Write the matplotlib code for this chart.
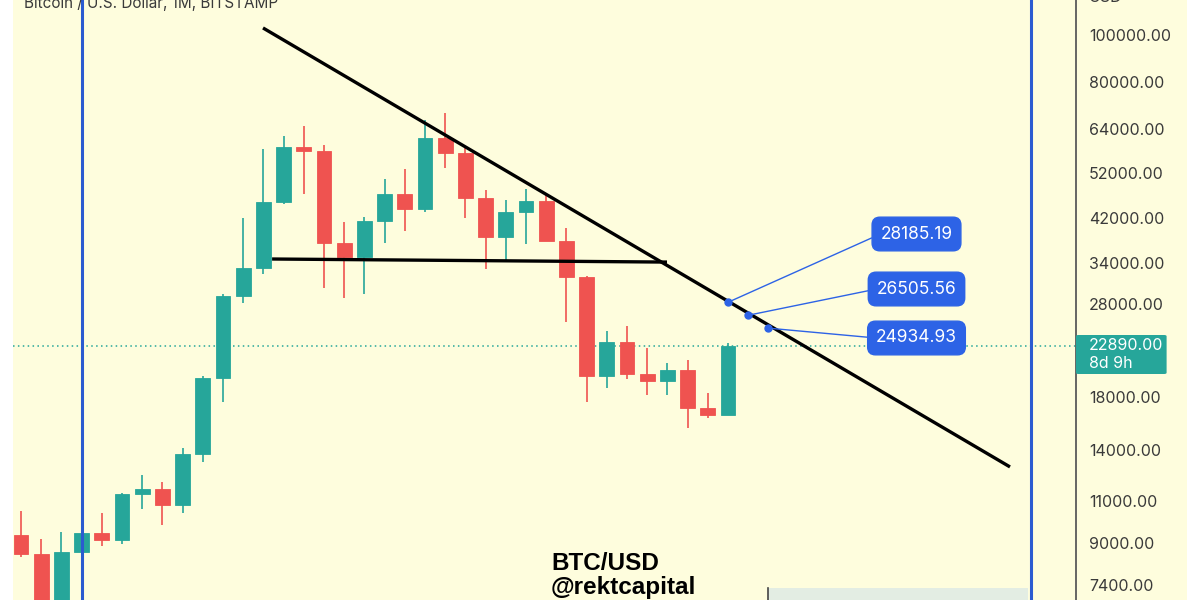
import matplotlib
matplotlib.use("Agg")
import matplotlib.pyplot as plt
from matplotlib.patches import Rectangle, FancyBboxPatch
from matplotlib.ticker import FixedLocator, FixedFormatter, NullLocator

# ---------------- data (BTC/USD monthly, Bitstamp) ----------------
months = ["2020-02", "2020-03", "2020-04", "2020-05", "2020-06", "2020-07",
          "2020-08", "2020-09", "2020-10", "2020-11", "2020-12", "2021-01",
          "2021-02", "2021-03", "2021-04", "2021-05", "2021-06", "2021-07",
          "2021-08", "2021-09", "2021-10", "2021-11", "2021-12", "2022-01",
          "2022-02", "2022-03", "2022-04", "2022-05", "2022-06", "2022-07",
          "2022-08", "2022-09", "2022-10", "2022-11", "2022-12", "2023-01"]
opens = [9350, 8540, 6410, 8640, 9450, 9140, 11350, 11640, 10790, 13740,
         19690, 29000, 33150, 45300, 58800, 57700, 37300, 35000, 41450, 47100,
         43800, 61350, 57200, 46200, 38400, 43150, 45500, 37650, 31780, 19880,
         23300, 20070, 19380, 20450, 17120, 16560]
highs = [10500, 9200, 9480, 10070, 10400, 11440, 12440, 12030, 14100, 19900,
         29300, 42000, 58400, 61900, 64900, 59500, 41300, 42300, 50500, 52900,
         67000, 69000, 59100, 47990, 45800, 48200, 47400, 40050, 31950, 24650,
         25200, 22700, 21100, 21450, 18350, 23200]
lows = [8450, 3850, 6150, 8110, 8880, 8980, 10590, 9810, 10390, 13230,
        17600, 28100, 32300, 45000, 47100, 30100, 28700, 29300, 37300, 39600,
        43300, 53300, 42000, 33000, 34400, 37200, 37700, 25700, 17600, 18780,
        19600, 18170, 18180, 15500, 16300, 16500]
closes = [8540, 6410, 8640, 9450, 9140, 11350, 11640, 10790, 13740, 19690,
          29000, 33150, 45300, 58800, 57700, 37300, 35000, 41450, 47100, 43800,
          61350, 57200, 46200, 38400, 43150, 45500, 37650, 31780, 19880, 23300,
          20070, 19380, 20450, 17120, 16560, 22890]

last_price = 22890.00
time_left = "8d 9h"

# trendlines (bar index, price)
diag_x = [11.98, 48.96]
diag_y = [103400, 12920]
horiz_x = [12.43, 31.98]
horiz_y = [34600, 34100]

# price targets on the descending trendline
target_x = [35, 36, 37]
target_y = [28185.19, 26505.56, 24934.93]

# vertical markers (bar index)
vline_x = [3, 50]

yticks = [100000, 80000, 64000, 52000, 42000, 34000, 28000,
          18000, 14000, 11000, 9000, 7400]

# ---------------- styling ----------------
BG = "#FEFDDD"
UP = "#26A69A"
DN = "#EF5350"
BLUE = "#2B5BD0"
LABEL_BLUE = "#2D63E6"
TXT = "#3A3A3A"
FONT = ["Inter", "DejaVu Sans"]

W, H = 1200, 600
fig = plt.figure(figsize=(12, 6), dpi=100, facecolor="white")


def fx(px):
    return px / W


def fy(py):
    return 1 - py / H


# log-scale mapping (px per decade)
TOP_LOG = 5 + 35 / 486
BOT_LOG = 5 - 565 / 486


def px_to_price(py):
    return 10 ** (5 - (py - 35) / 486)


def px_to_idx(px):
    return (px - 21) / 20.2


# right price-scale panel background (behind the axes and its labels)
fig.patches.append(Rectangle((fx(1076), 0), fx(1187 - 1076), 1,
                             transform=fig.transFigure, facecolor=BG,
                             edgecolor="none", zorder=-5))

ax = fig.add_axes([fx(13), 0, fx(1076 - 13), 1])
ax.set_facecolor(BG)
ax.set_yscale("log")
ax.set_ylim(10 ** BOT_LOG, 10 ** TOP_LOG)
ax.set_xlim(px_to_idx(13), px_to_idx(1076))

for s in ["top", "left", "bottom"]:
    ax.spines[s].set_visible(False)
ax.spines["right"].set_color("#5a5a5a")
ax.spines["right"].set_linewidth(1.3)
ax.xaxis.set_major_locator(NullLocator())
ax.xaxis.set_minor_locator(NullLocator())
ax.yaxis.tick_right()
ax.yaxis.set_major_locator(FixedLocator(yticks))
ax.yaxis.set_major_formatter(FixedFormatter([f"{v:.2f}" for v in yticks]))
ax.yaxis.set_minor_locator(NullLocator())
ax.tick_params(axis="y", which="both", length=0, pad=9.4, labelsize=11.5,
               labelcolor=TXT, right=True, labelright=True, left=False,
               labelleft=False)
for lab in ax.yaxis.get_ticklabels(which="major"):
    lab.set_fontfamily(FONT)
for t in ax.yaxis.get_major_ticks():
    t.label2.set_fontfamily(FONT)

# candles
xs = list(range(len(months)))
colors = [UP if c >= o else DN for o, c in zip(opens, closes)]
ax.vlines(xs, lows, highs, colors=colors, linewidth=1.2, zorder=3)
bottoms = [min(o, c) for o, c in zip(opens, closes)]
heights = [max(abs(c - o), 1e-6 * o) for o, c in zip(opens, closes)]
ax.bar(xs, heights, bottom=bottoms, width=0.74, color=colors,
       edgecolor=colors, linewidth=0.6, zorder=4)

# current price dotted line
ax.axhline(last_price, color=UP, linestyle=(0, (1, 2.2)), linewidth=1.1, zorder=2)

# vertical blue markers
for v in vline_x:
    ax.axvline(v, color=BLUE, linewidth=2.2, zorder=5)

# trendlines
ax.plot(diag_x, diag_y, color="black", linewidth=2.4, zorder=6,
        solid_capstyle="butt")
ax.plot(horiz_x, horiz_y, color="black", linewidth=2.4, zorder=6,
        solid_capstyle="butt")

# target labels
box_x = px_to_idx(916.5)
box_py = [234, 289, 338]
for tx, ty, bpy in zip(target_x, target_y, box_py):
    ax.annotate(f"{ty:.2f}", xy=(tx, ty), xytext=(box_x, px_to_price(bpy)),
                textcoords="data", ha="center", va="center", fontsize=12.5,
                color="white", family=FONT, zorder=8,
                bbox=dict(boxstyle="round,pad=0.48,rounding_size=0.45",
                          facecolor=LABEL_BLUE, edgecolor=LABEL_BLUE),
                arrowprops=dict(arrowstyle="-", color=LABEL_BLUE, lw=1.0,
                                shrinkA=0, shrinkB=0, relpos=(0, 0.5)))
ax.plot(target_x, target_y, "o", color=LABEL_BLUE, markersize=5, zorder=9)

# current price label on the scale
fig.patches.append(FancyBboxPatch((fx(1076), fy(374)), fx(1169 - 1076) - 0.002,
                                  (374 - 335) / H,
                                  boxstyle="round,pad=0,rounding_size=0.002",
                                  transform=fig.transFigure, facecolor=UP,
                                  edgecolor="none", zorder=5))
fig.text(fx(1089), fy(346), f"{last_price:.2f}", color="white", fontsize=11.5,
         family=FONT, va="center", ha="left", zorder=6)
fig.text(fx(1089), fy(364), time_left, color="white", fontsize=11.5,
         family=FONT, va="center", ha="left", zorder=6)

# header texts (cut at top like the screenshot)
fig.text(fx(24), fy(8), "Bitcoin / U.S. Dollar, 1M, BITSTAMP", color=TXT,
         fontsize=11, family=FONT, va="baseline", ha="left")
fig.text(fx(1089), fy(2), "USD", color=TXT, fontsize=11.5, family=FONT,
         va="baseline", ha="left")

# watermark text
fig.text(fx(551), fy(570), "BTC/USD", color="black", fontsize=17.5,
         fontweight="bold", family=["Liberation Sans", "DejaVu Sans"],
         va="baseline", ha="left", zorder=10)
fig.text(fx(551), fy(594), "@rektcapital", color="black", fontsize=17.5,
         fontweight="bold", family=["Liberation Sans", "DejaVu Sans"],
         va="baseline", ha="left", zorder=10)

# bottom-right panel fragment
fig.patches.append(Rectangle((fx(768), 0), fx(1028 - 768), 12 / H,
                             transform=fig.transFigure, facecolor="#E3EDE3",
                             edgecolor="none", zorder=6))
fig.lines.append(plt.Line2D([fx(768), fx(768)], [0, 12 / H],
                            transform=fig.transFigure, color="#444444",
                            linewidth=1.2, zorder=7))

fig.savefig("out.png", dpi=100, facecolor=fig.get_facecolor())
